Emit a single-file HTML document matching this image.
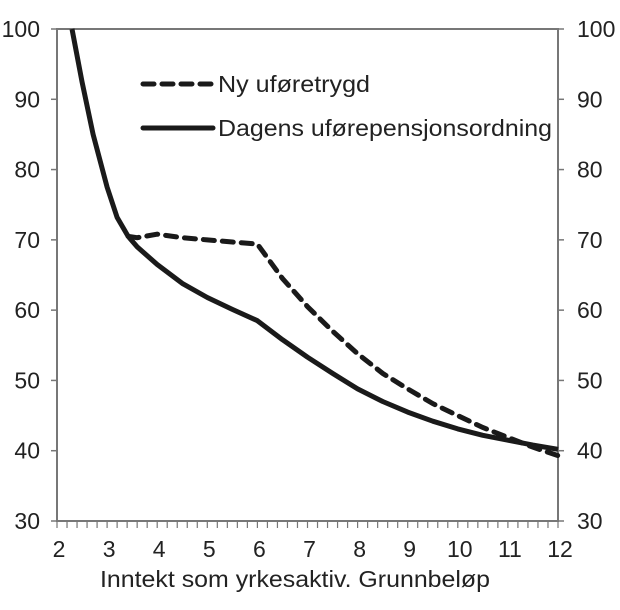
<!DOCTYPE html>
<html><head><meta charset="utf-8"><style>
body{margin:0;background:#fff;}
svg{display:block;font-family:"Liberation Sans",sans-serif;}
</style></head><body>
<svg id="chart" width="620" height="610" viewBox="0 0 620 610"></svg>
<script>
const xTicks=[2,3,4,5,6,7,8,9,10,11,12];
const yTicks=[30,40,50,60,70,80,90,100];
const solidX=[2.3,2.5,2.72,3,3.2,3.42,3.6,4,4.5,5,5.5,6,6.5,7,7.5,8,8.5,9,9.5,10,10.5,11,11.5,12];
const solidY=[100,92.5,85,77.5,73.2,70.5,69,66.5,63.8,61.8,60.1,58.5,55.8,53.3,51,48.8,47,45.5,44.2,43.1,42.2,41.5,40.8,40.2];
const dashX=[3.42,3.6,4,4.5,5,5.5,6,6.5,7,7.5,8,8.5,9,9.5,10,10.5,11,11.5,12];
const dashY=[70.5,70.3,70.8,70.3,70,69.7,69.4,64.5,60.5,57,53.8,51,48.8,46.7,45,43.3,41.9,40.5,39.3];
const L=57,R=558,T=29,B=521;
const sx=v=>L+(v-2)/10*(R-L);
const sy=v=>B-(v-30)/70*(B-T);
const svg=document.getElementById('chart');
const NS='http://www.w3.org/2000/svg';
function mk(t,a,txt){const e=document.createElementNS(NS,t);for(const k in a)e.setAttribute(k,a[k]);if(txt!==undefined)e.textContent=txt;svg.appendChild(e);return e;}
let f=mk('rect',{x:L,y:T,width:R-L,height:B-T,fill:'none',stroke:'#777','stroke-width':2});


yTicks.forEach(v=>{
 let t=mk('line',{x1:L-6,x2:L,y1:sy(v),y2:sy(v),stroke:'#777','stroke-width':1.5});
 
 
 let t2=mk('line',{x1:R,x2:R+6,y1:sy(v),y2:sy(v),stroke:'#777','stroke-width':1.5});
 
 
 let a=mk('text',{x:L-17,y:sy(v)+8,'text-anchor':'end','font-size':23,fill:'#222'},v);
 
 
 let b=mk('text',{x:R+19,y:sy(v)+8,'text-anchor':'start','font-size':23,fill:'#222'},v);
 
 
});
for(let v=2;v<=12.001;v+=0.2){
 let t=mk('line',{x1:sx(v),x2:sx(v),y1:B,y2:B+7,stroke:'#777','stroke-width':1.2});
 
 
}
xTicks.forEach(v=>{
 let a=mk('text',{x:sx(v)+2,y:B+36,'text-anchor':'middle','font-size':23,fill:'#222'},v);
 
 
});
let xt=mk('text',{x:100,y:587,'font-size':23,fill:'#222',textLength:390,lengthAdjust:'spacingAndGlyphs'},'Inntekt som yrkesaktiv. Grunnbeløp');


const pts=(xs,ys)=>xs.map((x,i)=>sx(x).toFixed(1)+','+sy(ys[i]).toFixed(1)).join(' ');
let s=mk('polyline',{points:pts(solidX,solidY),fill:'none',stroke:'#1a1a1a','stroke-width':5,'stroke-linejoin':'round'});


let d=mk('polyline',{points:pts(dashX,dashY),fill:'none',stroke:'#1a1a1a','stroke-width':5,'stroke-dasharray':'11 8','stroke-linecap':'round'});


let l1=mk('line',{x1:143,x2:213,y1:84,y2:84,stroke:'#1a1a1a','stroke-width':5,'stroke-dasharray':'11 8','stroke-linecap':'round'});


let lt1=mk('text',{x:218,y:92,'font-size':23,fill:'#222',textLength:152,lengthAdjust:'spacingAndGlyphs'},'Ny uføretrygd');


let l2=mk('line',{x1:143,x2:213,y1:128,y2:128,stroke:'#1a1a1a','stroke-width':5,'stroke-linecap':'round'});


let lt2=mk('text',{x:218,y:136,'font-size':23,fill:'#222',textLength:334,lengthAdjust:'spacingAndGlyphs'},'Dagens uførepensjonsordning');


</script>
</body></html>
